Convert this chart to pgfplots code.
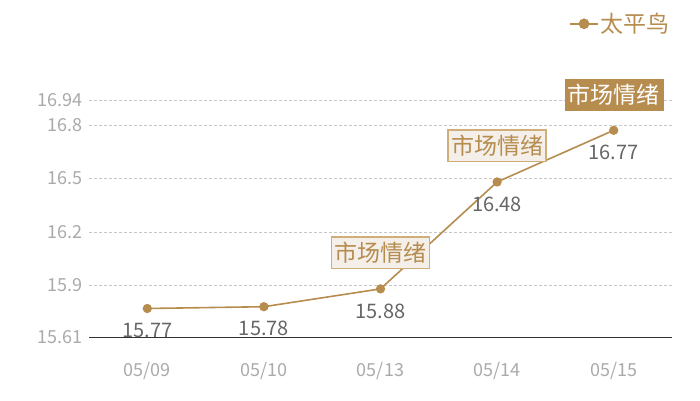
\documentclass[border=0pt]{standalone}
\usepackage{pgfplots}
\pgfplotsset{compat=1.18}
\usepackage{fontspec}
\setmainfont{Noto Sans CJK SC}
\definecolor{gold}{HTML}{B68C4F}
\definecolor{boxfill}{HTML}{F4EFE9}
\definecolor{boxline}{HTML}{CFAE7A}
\definecolor{ticklbl}{HTML}{AAAAAA}
\definecolor{vallbl}{HTML}{666666}
\begin{document}
\begin{tikzpicture}[x=1pt,y=1pt]
\path (0,0) rectangle (700,400);
\begin{axis}[
    at={(89pt,63pt)}, anchor=south west,
    scale only axis,
    width=583pt, height=237pt,
    xmin=-0.5, xmax=4.5,
    ymin=15.61, ymax=16.94,
    xtick={0,1,2,3,4},
    xticklabels={05/09,05/10,05/13,05/14,05/15},
    ytick={15.61,15.9,16.2,16.5,16.8,16.94},
    yticklabels={15.61,15.9,16.2,16.5,16.8,16.94},
    /pgf/number format/assume math mode=true,
    axis x line*=bottom, axis y line*=left,
    x axis line style={draw=black!80, -},
    y axis line style={draw=none},
    major tick length=0pt,
    ymajorgrids=true,
    grid style={densely dashed, black!22, line width=0.5pt},
    tick label style={text=ticklbl, font=\fontsize{18}{18}\selectfont},
    xticklabel style={yshift=-22pt},
    yticklabel style={xshift=-3pt},
    clip=false,
    legend style={at={(1.0,1.375)}, anchor=north east, draw=none, fill=none,
        inner sep=0pt, font=\fontsize{23}{23}\selectfont, text=gold},
    legend image code/.code={
        \draw[gold, line width=1.5pt] (-4pt,0pt) -- (24pt,0pt);
        \fill[gold] (10pt,0pt) circle (4.5pt);
    },
]
\addplot[color=gold, line width=1.6pt, mark=*, mark size=3.8pt,
    mark options={fill=gold, draw=gold},
    nodes near coords,
    every node near coord/.style={anchor=center, yshift=-22pt, text=vallbl,
        font=\fontsize{20}{20}\selectfont},
    ] coordinates {
    (0,15.77)(1,15.78)(2,15.88)(3,16.48)(4,16.77)
    };
\legend{太平鸟}
\node[fill=boxfill, draw=boxline, line width=1.5pt, text=gold,
    inner xsep=3pt, inner ysep=5pt,
    font=\fontsize{23}{23}\selectfont] at (axis cs:2,16.082) {市场情绪};
\node[fill=boxfill, draw=boxline, line width=1.5pt, text=gold,
    inner xsep=3pt, inner ysep=5pt,
    font=\fontsize{23}{23}\selectfont] at (axis cs:3,16.683) {市场情绪};
\node[fill=gold, draw=gold, text=white, inner xsep=3pt, inner ysep=5pt,
    font=\fontsize{23}{23}\selectfont] at (axis cs:4,16.97) {市场情绪};
\end{axis}
\end{tikzpicture}
\end{document}
